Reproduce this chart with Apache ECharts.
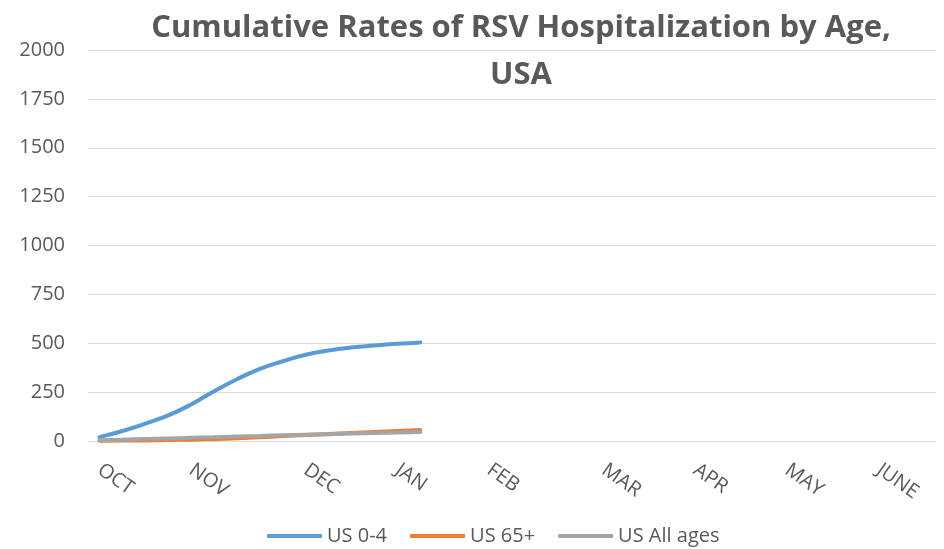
<!DOCTYPE html>
<html>
<head>
<meta charset="utf-8">
<script src="https://cdn.jsdelivr.net/npm/echarts@6/dist/echarts.min.js"></script>
<style>
    html, body { margin: 0; padding: 0; background: #fff; }
    #chart { width: 944px; height: 549px; }
</style>
</head>
<body>
<div id="chart"></div>
<script>
// weekly categories, MMWR week 40 through week 24
const weeks = ['40', '41', '42', '43', '44', '45', '46', '47', '48', '49', '50', '51', '52',
    '1', '2', '3', '4', '5', '6', '7', '8', '9', '10', '11', '12', '13', '14', '15', '16',
    '17', '18', '19', '20', '21', '22', '23', '24'];
// month tick labels and the week index where each one sits
const monthLabels = ['OCT', 'NOV', 'DEC', 'JAN', 'FEB', 'MAR', 'APR', 'MAY', 'JUNE'];
const monthWeekIndex = [0, 4, 9, 13, 17, 22, 26, 30, 34];

// cumulative rates
const us04 = [20, 51, 89, 131, 187, 255, 316, 369, 408, 441, 463, 478, 488, 497, 504];
const us65 = [1, 2, 3, 5, 7, 10, 14, 19, 25, 31, 36, 41, 46, 51, 56];
const usAll = [4, 7, 10, 13, 16, 19, 23, 26, 29, 32, 35, 38, 41, 43, 46];

const seriesNames = ['US 0-4', 'US 65+', 'US All ages'];
const seriesColors = ['#5B9BD5', '#ED7D31', '#A5A5A5'];

const textColor = '#595959';
const labelFont = "'Open Sans', sans-serif";

function lineSeries(idx, values) {
    return {
        name: seriesNames[idx],
        type: 'line',
        smooth: true,
        symbol: 'none',
        data: values,
        lineStyle: { width: 4, color: seriesColors[idx], cap: 'round' },
        itemStyle: { color: seriesColors[idx] }
    };
}

window.onload = function () {
    const chart = echarts.init(document.getElementById('chart'));
    chart.setOption({
        animation: false,
        title: {
            text: 'Cumulative Rates of RSV Hospitalization by Age,\nUSA',
            left: 516,
            top: 0,
            textAlign: 'center',
            textStyle: {
                fontFamily: "'Liberation Sans Narrow', 'Open Sans', sans-serif",
                fontWeight: 'bold',
                fontSize: 31,
                lineHeight: 47,
                color: textColor
            }
        },
        legend: {
            left: 262,
            top: 521,
            itemWidth: 55,
            itemHeight: 4,
            itemGap: 23,
            icon: 'roundRect',
            textStyle: { fontFamily: labelFont, fontSize: 20, color: textColor },
            data: seriesNames
        },
        grid: {
            left: 88,
            right: 8,
            top: 50,
            bottom: 108
        },
        xAxis: {
            type: 'category',
            data: weeks,
            boundaryGap: true,
            axisLine: { lineStyle: { color: '#D9D9D9', width: 1 } },
            axisTick: { show: false },
            axisLabel: {
                interval: 0,
                rotate: -35,
                margin: 27,
                fontFamily: labelFont,
                fontSize: 20,
                color: textColor,
                formatter: function (value, index) {
                    const k = monthWeekIndex.indexOf(index);
                    return k >= 0 ? monthLabels[k] : '';
                }
            }
        },
        yAxis: {
            type: 'value',
            min: 0,
            max: 2000,
            interval: 250,
            axisLine: { show: false },
            axisTick: { show: false },
            splitLine: { lineStyle: { color: '#D9D9D9', width: 1 } },
            axisLabel: {
                margin: 23,
                fontFamily: labelFont,
                fontSize: 20,
                color: textColor,
                formatter: function (v) { return String(v); }
            }
        },
        series: [
            lineSeries(0, us04),
            lineSeries(1, us65),
            lineSeries(2, usAll)
        ]
    });
};
</script>
</body>
</html>
